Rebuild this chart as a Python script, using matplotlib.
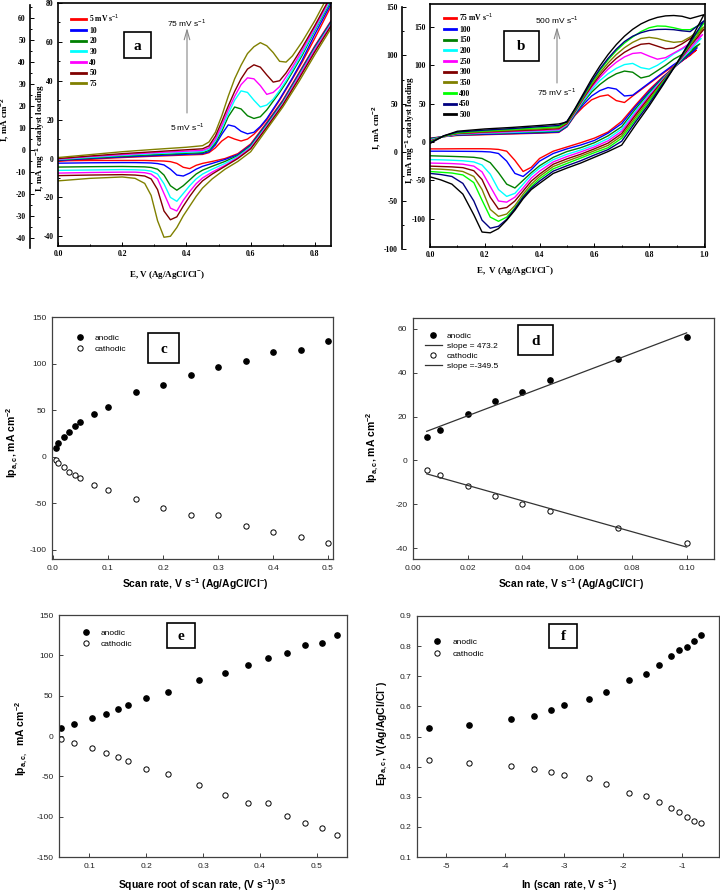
import numpy as np
import matplotlib.pyplot as plt
from matplotlib.lines import Line2D
from matplotlib.patches import Rectangle

plt.rcParams['mathtext.fontset'] = 'custom'
plt.rcParams['mathtext.rm'] = 'Liberation Sans'
plt.rcParams['mathtext.bf'] = 'Liberation Sans:bold'

W, H = 720, 896
SERIF = 'Liberation Serif'
SANS = 'Liberation Sans'

# ---------------- panel a: CVs 5-75 mV/s ----------------
a_labels = ['5 mV s$^{-1}$', '10', '20', '30', '40', '50', '75']
a_colors = ['#ff0000', '#0000ff', '#008000', '#00ffff', '#ff00ff', '#800000', '#808000']
a_E_fwd = [0.0, 0.1, 0.2, 0.3, 0.4, 0.45, 0.47, 0.49, 0.51, 0.53, 0.55, 0.57,
           0.59, 0.61, 0.63, 0.65, 0.67, 0.69, 0.71, 0.73, 0.76, 0.80, 0.88]
a_I_fwd = [
    [-1.2, -0.3, 0.5, 1.2, 1.8, 2.1, 3.0, 5.5, 9.0, 11.3, 10.0, 9.0, 10.0, 12.5, 16.0, 20.0, 25.0, 30.0, 35.5, 41.0, 49.5, 62.0, 88.0],
    [-1.0, 0.0, 0.8, 1.5, 2.2, 2.5, 3.5, 7.0, 12.5, 17.3, 16.5, 14.0, 12.7, 13.5, 16.5, 20.5, 25.5, 30.5, 36.0, 41.5, 50.5, 64.0, 89.0],
    [-0.7, 0.3, 1.2, 2.0, 2.7, 3.0, 4.2, 8.0, 14.0, 21.5, 26.5, 25.5, 22.0, 20.6, 21.5, 25.0, 29.5, 34.0, 39.0, 44.5, 53.0, 66.0, 90.0],
    [-0.5, 0.6, 1.6, 2.5, 3.2, 3.6, 4.8, 9.0, 15.5, 23.0, 30.0, 34.8, 34.0, 30.0, 26.5, 27.5, 30.5, 35.0, 40.0, 45.5, 54.0, 66.5, 91.0],
    [-0.3, 1.0, 2.0, 3.0, 3.8, 4.2, 5.5, 10.0, 17.0, 25.0, 32.0, 38.0, 41.5, 41.0, 37.5, 33.0, 34.0, 37.0, 42.0, 47.0, 55.5, 67.5, 92.0],
    [0.0, 1.3, 2.5, 3.5, 4.5, 5.0, 6.5, 11.5, 19.0, 27.0, 34.5, 41.0, 46.0, 48.2, 47.0, 43.0, 39.3, 40.0, 44.0, 49.0, 57.0, 68.5, 93.0],
    [0.5, 2.0, 3.5, 4.7, 5.8, 6.6, 8.5, 13.5, 22.0, 32.0, 41.0, 48.0, 54.0, 57.5, 59.6, 58.0, 54.5, 50.0, 49.6, 52.8, 60.0, 71.0, 96.0],
]
a_E_rev = [0.88, 0.80, 0.75, 0.70, 0.65, 0.60, 0.56, 0.52, 0.48, 0.45, 0.43, 0.41,
           0.39, 0.37, 0.35, 0.33, 0.31, 0.29, 0.27, 0.24, 0.20, 0.10, 0.0]
a_I_rev = [
    [78.5, 58.0, 44.0, 30.0, 18.5, 7.5, 2.5, 0.0, -1.5, -2.5, -3.5, -5.2, -4.5, -2.5, -1.6, -1.3, -1.2, -1.1, -1.0, -1.0, -1.0, -1.0, -1.2],
    [78.0, 57.5, 43.5, 29.5, 18.0, 7.0, 2.0, -0.5, -2.5, -4.0, -5.5, -7.5, -9.0, -8.5, -5.5, -3.3, -2.6, -2.3, -2.2, -2.1, -2.1, -2.2, -2.4],
    [77.5, 57.0, 43.0, 29.0, 17.5, 6.5, 1.5, -1.5, -4.0, -6.0, -8.0, -11.0, -14.0, -16.3, -14.0, -8.5, -5.5, -4.6, -4.3, -4.2, -4.1, -4.2, -4.4],
    [77.0, 56.5, 42.5, 28.5, 17.0, 6.0, 1.0, -2.5, -5.5, -8.0, -10.5, -14.0, -18.0, -22.0, -20.0, -13.0, -8.0, -6.5, -6.0, -5.8, -5.7, -5.9, -6.1],
    [76.5, 56.0, 42.0, 28.0, 16.5, 5.5, 0.5, -3.5, -7.0, -10.0, -13.0, -17.0, -21.5, -27.0, -25.5, -18.0, -10.5, -8.0, -7.3, -7.0, -7.0, -7.2, -7.5],
    [76.0, 55.0, 41.0, 27.5, 16.0, 5.0, 0.0, -4.0, -8.0, -11.5, -15.0, -19.5, -24.5, -30.0, -31.5, -27.0, -16.0, -10.5, -9.0, -8.5, -8.3, -8.5, -8.8],
    [75.0, 53.5, 39.5, 26.5, 15.0, 3.5, -1.5, -5.5, -10.5, -15.2, -19.5, -24.5, -29.5, -35.5, -40.0, -40.5, -32.0, -19.0, -12.8, -10.2, -9.5, -10.2, -11.5],
]

# ---------------- panel b: CVs 75-500 mV/s ----------------
b_labels = ['75 mV s$^{-1}$', '100', '150', '200', '250', '300', '350', '400', '450', '500']
b_colors = ['#ff0000', '#0000ff', '#008000', '#00ffff', '#ff00ff', '#800000',
            '#808000', '#00ff00', '#000080', '#000000']
b_E_fwd = [0.0, 0.05, 0.1, 0.2, 0.3, 0.4, 0.47, 0.50, 0.53, 0.56, 0.59, 0.62,
           0.65, 0.68, 0.71, 0.74, 0.77, 0.80, 0.83, 0.86, 0.89, 0.92, 0.95]
b_I_fwd = [
    [5, 7, 8.5, 9.5, 10.5, 11.5, 12.5, 20, 35, 46, 55, 59.5, 61.4, 54, 51.5, 60, 68, 76, 84, 92, 99, 106, 113],
    [4.5, 7, 9, 10, 11, 12, 13, 20, 36, 49, 60, 67, 71, 69, 60, 61, 69, 77, 85, 93, 101, 108, 116],
    [4, 7, 9.5, 11, 12, 13, 14, 21, 37, 52, 65, 75, 83, 89, 92.5, 91, 83.5, 86, 93, 100, 108, 114, 120],
    [3, 7, 10, 11.5, 12.5, 14, 15, 22, 38, 54, 68, 80, 89, 96, 101, 102.5, 97, 95, 100, 107, 115, 121, 127],
    [2, 7, 10.5, 12, 13.5, 15, 16, 23, 39, 56, 71, 84, 95, 104, 111, 115.5, 116.5, 112, 108, 110, 116, 122, 129],
    [1, 7.5, 11, 13, 14.5, 16, 17.5, 24, 40, 57, 73, 87, 99, 109, 117, 123, 127.5, 128.5, 125, 121.5, 122.5, 128, 135],
    [0.5, 7.5, 11.5, 13.5, 15.5, 17, 18.5, 25, 41, 58, 75, 90, 103, 114, 123, 130, 135, 136.5, 135, 132, 130, 131, 137],
    [0, 7.5, 12, 14.5, 16.5, 18.5, 20, 26, 42, 60, 77, 93, 107, 119, 129, 137, 144, 149, 151.3, 151, 149, 146.5, 146.5],
    [-1, 8, 13, 15.5, 17.5, 20, 21.5, 27, 43, 61, 79, 95, 109, 121, 131, 138, 142.5, 145.5, 146.8, 147, 146.5, 145, 144],
    [-2, 8, 14, 17, 19, 21.5, 23.5, 26, 44, 63, 82, 99, 114, 127, 138, 147, 154, 159, 162.5, 164.5, 165, 164, 161],
]
b_rev_E = [0.972, 0.975, 0.985, 0.99, 0.995, 1.0, 1.0, 1.0, 1.0, 1.0]
b_rev_I = [120, 123, 128, 135, 140, 147, 150, 155, 158, 166]
b_E_rev = [0.95, 0.90, 0.85, 0.80, 0.75, 0.70, 0.65, 0.60, 0.55, 0.50, 0.45, 0.40,
           0.37, 0.34, 0.31, 0.28, 0.25, 0.22, 0.19, 0.16, 0.12, 0.08, 0.04, 0.0]
b_I_rev = [
    [114, 100, 85, 68, 48, 27, 13, 5, -1, -6.5, -12, -21.5, -33, -38.5, -24, -12, -9.7, -9, -8.8, -8.8, -8.8, -8.9, -9, -9],
    [115, 100, 84, 66, 46, 24, 11.5, 2, -4, -9, -15, -25, -36, -45, -41, -25, -15, -13, -12.5, -12.3, -12.2, -12.1, -12, -12],
    [117, 100.5, 83, 64, 43, 20, 8, -1, -7.5, -12.5, -20, -31, -40, -50, -60, -55, -40, -27, -21.5, -20, -19.3, -18.8, -18.4, -18],
    [120, 101, 82, 62, 40, 17, 4.5, -4, -10.5, -16, -23, -34, -43, -55, -67, -71, -62, -42, -30, -26, -24.5, -23.8, -23.3, -23],
    [122, 101.5, 81, 60, 37.5, 14, 1.5, -6.5, -13, -19, -26, -38, -47, -60, -72, -78.5, -77, -58, -39, -31.5, -29, -28.2, -27.8, -27.5],
    [125, 102, 80, 58, 35, 11, -1.5, -9, -16, -22, -29, -42, -51, -64, -77, -85.5, -87.5, -72, -49, -37.5, -33.5, -32.5, -32, -31.5],
    [127, 102, 78.5, 55.5, 32, 8, -4.5, -11.5, -18.5, -25, -32, -45, -55, -68, -83, -94, -97, -88, -62, -45, -38.5, -36.5, -35.5, -35],
    [128.5, 102, 77.5, 53, 29, 5, -7.5, -14, -21, -28, -35, -48, -58, -71, -86, -98, -103.5, -98, -76, -53, -43, -40.5, -39.5, -38.5],
    [130, 102, 76, 50, 26, 1, -10, -17, -24.5, -31, -38, -51, -60, -72, -87, -101, -110, -112.5, -102, -77, -54, -45, -42.5, -41],
    [132, 102, 74, 47, 22, -4, -12.5, -20, -27.5, -34, -41, -54, -62, -74, -89, -102, -113, -118.5, -117.5, -95, -68, -55, -49.5, -45.5],
]

# ---------------- panel c: peak currents vs scan rate ----------------
c_rate = [0.005, 0.01, 0.02, 0.03, 0.04, 0.05, 0.075, 0.1, 0.15, 0.2, 0.25, 0.3, 0.35, 0.4, 0.45, 0.5]
c_anodic = [9.6, 14.3, 21.4, 26.8, 32.5, 37.1, 46.0, 53.6, 69.6, 77.1, 87.5, 96.4, 102.9, 112.5, 114.6, 123.9]
c_cathodic = [-3.6, -6.4, -11.0, -16.0, -19.3, -23.2, -30.4, -35.7, -45.7, -55.0, -62.5, -62.5, -74.3, -80.7, -86.4, -92.5]

# ---------------- panel d: low scan rates with linear fits ----------------
d_rate = [0.005, 0.01, 0.02, 0.03, 0.04, 0.05, 0.075, 0.1]
d_anodic = [10.9, 14.0, 21.1, 26.9, 31.3, 36.7, 46.2, 56.3]
d_cathodic = [-4.3, -6.8, -11.6, -16.4, -19.8, -23.3, -31.0, -37.9]

# ---------------- panel e: vs square root of scan rate ----------------
e_sqrt = [0.051, 0.074, 0.105, 0.129, 0.150, 0.168, 0.199, 0.239, 0.293, 0.338, 0.379, 0.415, 0.448, 0.480, 0.509, 0.536]
e_anodic = [10.0, 14.6, 22.0, 27.5, 33.3, 38.3, 46.5, 54.0, 70.0, 77.5, 88.0, 97.0, 103.5, 113.0, 115.0, 125.0]
e_cathodic = [-3.3, -8.3, -14.6, -20.8, -25.8, -30.4, -40.4, -47.5, -60.8, -72.9, -82.5, -82.5, -98.8, -107.5, -114.6, -122.5]

# ---------------- panel f: peak potentials vs ln(scan rate) ----------------
f_lnrate = [-5.30, -4.61, -3.91, -3.51, -3.22, -3.00, -2.59, -2.30, -1.90, -1.61, -1.39, -1.20, -1.05, -0.92, -0.80, -0.69]
f_anodic = [0.527, 0.537, 0.558, 0.567, 0.588, 0.606, 0.626, 0.647, 0.686, 0.708, 0.737, 0.766, 0.786, 0.797, 0.816, 0.838]
f_cathodic = [0.422, 0.411, 0.402, 0.392, 0.382, 0.372, 0.361, 0.341, 0.312, 0.301, 0.282, 0.262, 0.251, 0.232, 0.221, 0.212]


def box(l, t, r, b):
    return [l / W, 1 - b / H, (r - l) / W, (b - t) / H]


def fxy(x, y):
    return x / W, 1 - y / H


def set_ticks(ax, xs, ys, xfmt, yfmt, family, weight, size):
    ax.set_xticks(xs, [xfmt.format(v) for v in xs], fontfamily=family, fontweight=weight, fontsize=size)
    ax.set_yticks(ys, [yfmt.format(v) for v in ys], fontfamily=family, fontweight=weight, fontsize=size)


def letter_box(l, t, r, b, s):
    fig.add_artist(Rectangle(fxy(l, b), (r - l) / W, (b - t) / H, transform=fig.transFigure,
                             fc='white', ec='black', lw=1.2))
    fig.text(*fxy((l + r) / 2, (t + b) / 2 + 1), s, ha='center', va='center',
             fontfamily=SERIF, fontweight='bold', fontsize=11)


def style_cv(ax):
    for sp in ax.spines.values():
        sp.set_linewidth(1.2)
    ax.tick_params(which='both', direction='in', width=0.7)
    ax.tick_params(which='major', length=3, pad=3)
    ax.tick_params(which='minor', length=1.5)


def outer_axis(l, t, b, ylim, ticks, minor):
    ax2 = fig.add_axes(box(l, t, l + 1, b))
    ax2.patch.set_visible(False)
    for side in ['top', 'right', 'bottom']:
        ax2.spines[side].set_visible(False)
    ax2.spines['left'].set_linewidth(1.2)
    ax2.set_xticks([])
    ax2.set_ylim(*ylim)
    ax2.set_yticks(ticks, ['{:g}'.format(v) for v in ticks], fontfamily=SERIF,
                   fontweight='bold', fontsize=5.5)
    ax2.set_yticks(minor, minor=True)
    ax2.tick_params(which='both', direction='in', width=0.7, pad=3)
    ax2.tick_params(which='major', length=3)
    ax2.tick_params(which='minor', length=1.5)


def style_scatter(ax):
    for sp in ax.spines.values():
        sp.set_linewidth(0.9)
        sp.set_color('#404040')
    ax.tick_params(direction='in', length=3, width=0.6, pad=4, colors='#222222')


def scatter_pair(ax, x, ya, yc):
    ax.plot(x, ya, ls='none', marker='o', ms=3.8, mfc='black', mec='black')
    ax.plot(x, yc, ls='none', marker='o', ms=3.8, mfc='white', mec='black', mew=0.7)


def scatter_legend(ax, anchor, pad, spacing):
    h_a = Line2D([], [], ls='none', marker='o', ms=3.8, mfc='black', mec='black')
    h_c = Line2D([], [], ls='none', marker='o', ms=3.8, mfc='white', mec='black', mew=0.7)
    ax.legend([h_a, h_c], ['anodic', 'cathodic'], loc='upper left', bbox_to_anchor=fxy(*anchor),
              bbox_transform=fig.transFigure, frameon=False, borderpad=0, borderaxespad=0,
              handlelength=1.2, handletextpad=pad, labelspacing=spacing,
              prop={'family': SANS, 'size': 6})


fig = plt.figure(figsize=(W / 100, H / 100), dpi=100)

# ---- a ----
ax = fig.add_axes(box(58, 3, 331, 246))
for i in range(len(a_labels)):
    ax.plot(a_E_fwd + a_E_rev, a_I_fwd[i] + a_I_rev[i], color=a_colors[i], lw=1.0)
ax.set_xlim(0, 0.85)
ax.set_ylim(-45, 80)
set_ticks(ax, [0.0, 0.2, 0.4, 0.6, 0.8], [-40, -20, 0, 20, 40, 60, 80], '{:.1f}', '{:g}', SERIF, 'bold', 5.5)
ax.set_xticks([0.1, 0.3, 0.5, 0.7], minor=True)
ax.set_yticks([-30, -10, 10, 30, 50, 70], minor=True)
style_cv(ax)
handles = [Line2D([], [], color=c, lw=2) for c in a_colors]
ax.legend(handles, a_labels, loc='upper left', bbox_to_anchor=fxy(71, 12), bbox_transform=fig.transFigure,
          frameon=False, borderpad=0, borderaxespad=0, handlelength=2.0, handletextpad=0.4,
          labelspacing=0.35, prop={'family': SERIF, 'weight': 'bold', 'size': 5.5})
outer_axis(30, 5, 248, (-44.5, 65.9), list(range(-40, 61, 10)), list(range(-35, 66, 10)))
ax.annotate('', xy=fxy(187, 28), xytext=fxy(187, 113), xycoords='figure fraction',
            arrowprops=dict(arrowstyle='->,head_length=0.7,head_width=0.2', color='#888888',
                            lw=0.8, shrinkA=0, shrinkB=0))
fig.text(*fxy(187, 23), '75 mV s$^{-1}$', ha='center', va='center', fontfamily=SANS, fontsize=6)
fig.text(*fxy(187, 127), '5 mV s$^{-1}$', ha='center', va='center', fontfamily=SANS, fontsize=6)
letter_box(124, 32, 151, 58, 'a')
fig.text(*fxy(5, 120), 'I, mA cm$^{\\mathbf{-2}}$', rotation=90, ha='center', va='center',
         fontfamily=SERIF, fontweight='bold', fontsize=6.5)
fig.text(*fxy(40, 138), 'I, mA mg$^{\\mathbf{-1}}$ catalyst loading', rotation=90, ha='center', va='center',
         fontfamily=SERIF, fontweight='bold', fontsize=6.5)
fig.text(*fxy(167, 276), 'E, V (Ag/AgCl/Cl$^{\\mathbf{-}}$)', ha='center', va='center',
         fontfamily=SERIF, fontweight='bold', fontsize=6.5)

# ---- b ----
ax = fig.add_axes(box(430, 4, 705, 247))
for i in range(len(b_labels)):
    ax.plot(b_E_fwd + [b_rev_E[i]] + b_E_rev, b_I_fwd[i] + [b_rev_I[i]] + b_I_rev[i],
            color=b_colors[i], lw=1.0)
ax.set_xlim(0, 1.004)
ax.set_ylim(-137, 180)
set_ticks(ax, [0.0, 0.2, 0.4, 0.6, 0.8, 1.0], [-100, -50, 0, 50, 100, 150], '{:.1f}', '{:g}', SERIF, 'bold', 5.5)
ax.set_xticks([0.1, 0.3, 0.5, 0.7, 0.9], minor=True)
style_cv(ax)
handles = [Line2D([], [], color=c, lw=2) for c in b_colors]
ax.legend(handles, b_labels, loc='upper left', bbox_to_anchor=fxy(444, 11), bbox_transform=fig.transFigure,
          frameon=False, borderpad=0, borderaxespad=0, handlelength=1.6, handletextpad=0.4,
          labelspacing=0.35, prop={'family': SERIF, 'weight': 'bold', 'size': 5.5})
outer_axis(402, 7, 249, (-100, 150), [-100, -50, 0, 50, 100, 150], [-75, -25, 25, 75, 125])
ax.annotate('', xy=fxy(557, 27), xytext=fxy(557, 83), xycoords='figure fraction',
            arrowprops=dict(arrowstyle='->,head_length=0.7,head_width=0.2', color='#888888',
                            lw=0.8, shrinkA=0, shrinkB=0))
fig.text(*fxy(557, 20), '500 mV s$^{-1}$', ha='center', va='center', fontfamily=SANS, fontsize=6)
fig.text(*fxy(557, 92), '75 mV s$^{-1}$', ha='center', va='center', fontfamily=SANS, fontsize=6)
letter_box(504, 31, 539, 61, 'b')
fig.text(*fxy(377, 128), 'I, mA cm$^{\\mathbf{-2}}$', rotation=90, ha='center', va='center',
         fontfamily=SERIF, fontweight='bold', fontsize=6.5)
fig.text(*fxy(410, 130), 'I, mA mg$^{\\mathbf{-1}}$ catalyst loading', rotation=90, ha='center', va='center',
         fontfamily=SERIF, fontweight='bold', fontsize=6.5)
fig.text(*fxy(515, 272), 'E,  V (Ag/AgCl/Cl$^{\\mathbf{-}}$)', ha='center', va='center',
         fontfamily=SERIF, fontweight='bold', fontsize=6.5)

# ---- c ----
ax = fig.add_axes(box(52, 317, 333, 559))
scatter_pair(ax, c_rate, c_anodic, c_cathodic)
ax.set_xlim(-0.0018, 0.509)
ax.set_ylim(-110, 150)
set_ticks(ax, [0.0, 0.1, 0.2, 0.3, 0.4, 0.5], [-100, -50, 0, 50, 100, 150], '{:.1f}', '{:g}', SANS, 'normal', 6)
style_scatter(ax)
scatter_legend(ax, (75, 334), 1.1, 0.4)
letter_box(148, 333, 179, 363, 'c')
fig.text(*fxy(13, 442), 'Ip$_{\\mathbf{a,c}}$, mA cm$^{\\mathbf{-2}}$', rotation=90, ha='center', va='center',
         fontfamily=SANS, fontweight='bold', fontsize=7.5)
fig.text(*fxy(195, 584), 'Scan rate, V s$^{\\mathbf{-1}}$ (Ag/AgCl/Cl$^{\\mathbf{-}}$)', ha='center', va='center',
         fontfamily=SANS, fontweight='bold', fontsize=7.5)

# ---- d ----
ax = fig.add_axes(box(413, 318, 714, 559))
fit_a = np.polyfit(d_rate, d_anodic, 1)
fit_c = np.polyfit(d_rate, d_cathodic, 1)
xs = np.array([d_rate[0], d_rate[-1]])
ax.plot(d_rate, d_anodic, ls='none', marker='o', ms=3.8, mfc='black', mec='black')
ax.plot(xs, np.polyval(fit_a, xs), color='#333333', lw=0.9)
ax.plot(d_rate, d_cathodic, ls='none', marker='o', ms=3.8, mfc='white', mec='black', mew=0.7)
ax.plot(xs, np.polyval(fit_c, xs), color='#333333', lw=0.9)
ax.set_xlim(0, 0.11)
ax.set_ylim(-45, 65)
set_ticks(ax, [0.0, 0.02, 0.04, 0.06, 0.08, 0.10], [-40, -20, 0, 20, 40, 60], '{:.2f}', '{:g}', SANS, 'normal', 6)
style_scatter(ax)
h_a = Line2D([], [], ls='none', marker='o', ms=3.8, mfc='black', mec='black')
h_c = Line2D([], [], ls='none', marker='o', ms=3.8, mfc='white', mec='black', mew=0.7)
h_l = Line2D([], [], color='#333333', lw=0.9)
ax.legend([h_a, h_l, h_c, h_l], ['anodic', 'slope = 473.2', 'cathodic', 'slope =-349.5'],
          loc='upper left', bbox_to_anchor=fxy(425, 332), bbox_transform=fig.transFigure,
          frameon=False, borderpad=0, borderaxespad=0, handlelength=2.0, handletextpad=0.6,
          labelspacing=0.25, prop={'family': SANS, 'size': 6})
letter_box(518, 325, 553, 355, 'd')
fig.text(*fxy(373, 447), 'Ip$_{\\mathbf{a,c}}$, mA cm$^{\\mathbf{-2}}$', rotation=90, ha='center', va='center',
         fontfamily=SANS, fontweight='bold', fontsize=7.5)
fig.text(*fxy(571, 584), 'Scan rate, V s$^{\\mathbf{-1}}$ (Ag/AgCl/Cl$^{\\mathbf{-}}$)', ha='center', va='center',
         fontfamily=SANS, fontweight='bold', fontsize=7.5)

# ---- e ----
ax = fig.add_axes(box(59, 615, 347, 857))
scatter_pair(ax, e_sqrt, e_anodic, e_cathodic)
ax.set_xlim(0.047, 0.553)
ax.set_ylim(-150, 150)
set_ticks(ax, [0.1, 0.2, 0.3, 0.4, 0.5], [-150, -100, -50, 0, 50, 100, 150], '{:.1f}', '{:g}', SANS, 'normal', 6)
style_scatter(ax)
scatter_legend(ax, (81, 629), 1.1, 0.4)
letter_box(167, 623, 195, 648, 'e')
fig.text(*fxy(22, 738), 'Ip$_{\\mathbf{a,c,}}$  mA cm$^{\\mathbf{-2}}$', rotation=90, ha='center', va='center',
         fontfamily=SANS, fontweight='bold', fontsize=7.5)
fig.text(*fxy(202, 885), 'Square root of scan rate, (V s$^{\\mathbf{-1}}$)$^{\\mathbf{0.5}}$', ha='center', va='center',
         fontfamily=SANS, fontweight='bold', fontsize=7.5)

# ---- f ----
ax = fig.add_axes(box(417, 616, 719, 857))
scatter_pair(ax, f_lnrate, f_anodic, f_cathodic)
ax.set_xlim(-5.5, -0.38)
ax.set_ylim(0.1, 0.9)
set_ticks(ax, [-5, -4, -3, -2, -1], [0.1, 0.2, 0.3, 0.4, 0.5, 0.6, 0.7, 0.8, 0.9], '{:g}', '{:.1f}', SANS, 'normal', 6)
style_scatter(ax)
scatter_legend(ax, (432, 638), 1.3, 0.5)
letter_box(549, 624, 577, 648, 'f')
fig.text(*fxy(383, 733), 'Ep$_{\\mathbf{a,c}}$, V(Ag/AgCl/Cl$^{\\mathbf{-}}$)', rotation=90, ha='center', va='center',
         fontfamily=SANS, fontweight='bold', fontsize=7.5)
fig.text(*fxy(569, 885), 'ln (scan rate, V s$^{\\mathbf{-1}}$)', ha='center', va='center',
         fontfamily=SANS, fontweight='bold', fontsize=7.5)

fig.savefig('out.png', dpi=100)
